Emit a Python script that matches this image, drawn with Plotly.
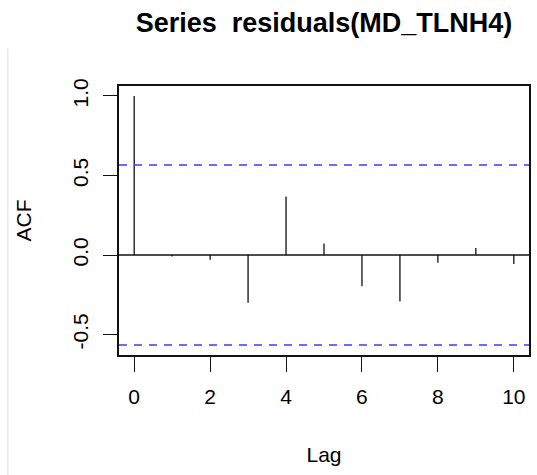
import plotly.graph_objects as go

# Autocorrelation of the model residuals, lags 0..10
lags = [0, 1, 2, 3, 4, 5, 6, 7, 8, 9, 10]
acf_values = [1.0, -0.01, -0.03, -0.30, 0.368, 0.073, -0.196, -0.293, -0.048, 0.044, -0.056]
conf_bound = 0.566  # 1.96 / sqrt(n)

x_ticks = [0, 2, 4, 6, 8, 10]
y_ticks = [-0.5, 0.0, 0.5, 1.0]
y_tick_text = ["-0.5", "0.0", "0.5", "1.0"]

FONT = "Liberation Sans, Arial, Helvetica, sans-serif"

# vertical spikes from zero to each ACF value
spike_x, spike_y = [], []
for lag, v in zip(lags, acf_values):
    spike_x += [lag, lag, None]
    spike_y += [0, v, None]

fig = go.Figure()
fig.add_trace(go.Scatter(
    x=spike_x, y=spike_y, mode="lines",
    line=dict(color="#111111", width=1.3),
    showlegend=False, hoverinfo="skip",
))

x_range = [-0.4, 10.4]
y_lo = min(min(acf_values), -conf_bound)
y_hi = max(max(acf_values), conf_bound)
pad = 0.04 * (y_hi - y_lo)
y_range = [y_lo - pad, y_hi + pad]

# zero line and confidence bounds
fig.add_hline(y=0, line=dict(color="#111111", width=1.5))
for b in (conf_bound, -conf_bound):
    fig.add_hline(y=b, line=dict(color="#3b3bff", width=1.6, dash="8px,7px"))

# thin page edge on the left
fig.add_shape(type="line", xref="paper", yref="paper",
              x0=-0.271, x1=-0.271, y0=1.14, y1=-0.45,
              line=dict(color="#dddddd", width=1))

fig.update_layout(
    width=537, height=475,
    margin=dict(l=119, r=6, t=86, b=120),
    paper_bgcolor="white", plot_bgcolor="white",
    font=dict(family=FONT, color="black", size=21),
    title=dict(
        text="<b>Series  residuals(MD_TLNH4)</b>",
        x=0.5, xref="paper", xanchor="center",
        y=1 - 23 / 475, yref="container", yanchor="middle",
        font=dict(family=FONT, size=27, color="black"),
    ),
    showlegend=False,
)

fig.update_xaxes(
    range=x_range, tickvals=x_ticks, ticks="outside", ticklen=15,
    tickwidth=1.3, tickcolor="#111111", ticklabelstandoff=7,
    showline=True, linecolor="#111111", linewidth=1.5, mirror=True,
    showgrid=False, zeroline=False,
    tickfont=dict(size=21), title=dict(text="Lag", font=dict(size=21), standoff=40),
)
fig.update_yaxes(
    range=y_range, tickvals=y_ticks, ticktext=y_tick_text, ticks="outside",
    ticklen=14, tickwidth=1.3, tickcolor="#111111", tickangle=-90,
    ticklabelstandoff=7,
    showline=True, linecolor="#111111", linewidth=1.5, mirror=True,
    showgrid=False, zeroline=False,
    tickfont=dict(size=21), title=dict(text="ACF", font=dict(size=21), standoff=31),
)

fig.write_html("out.html")
